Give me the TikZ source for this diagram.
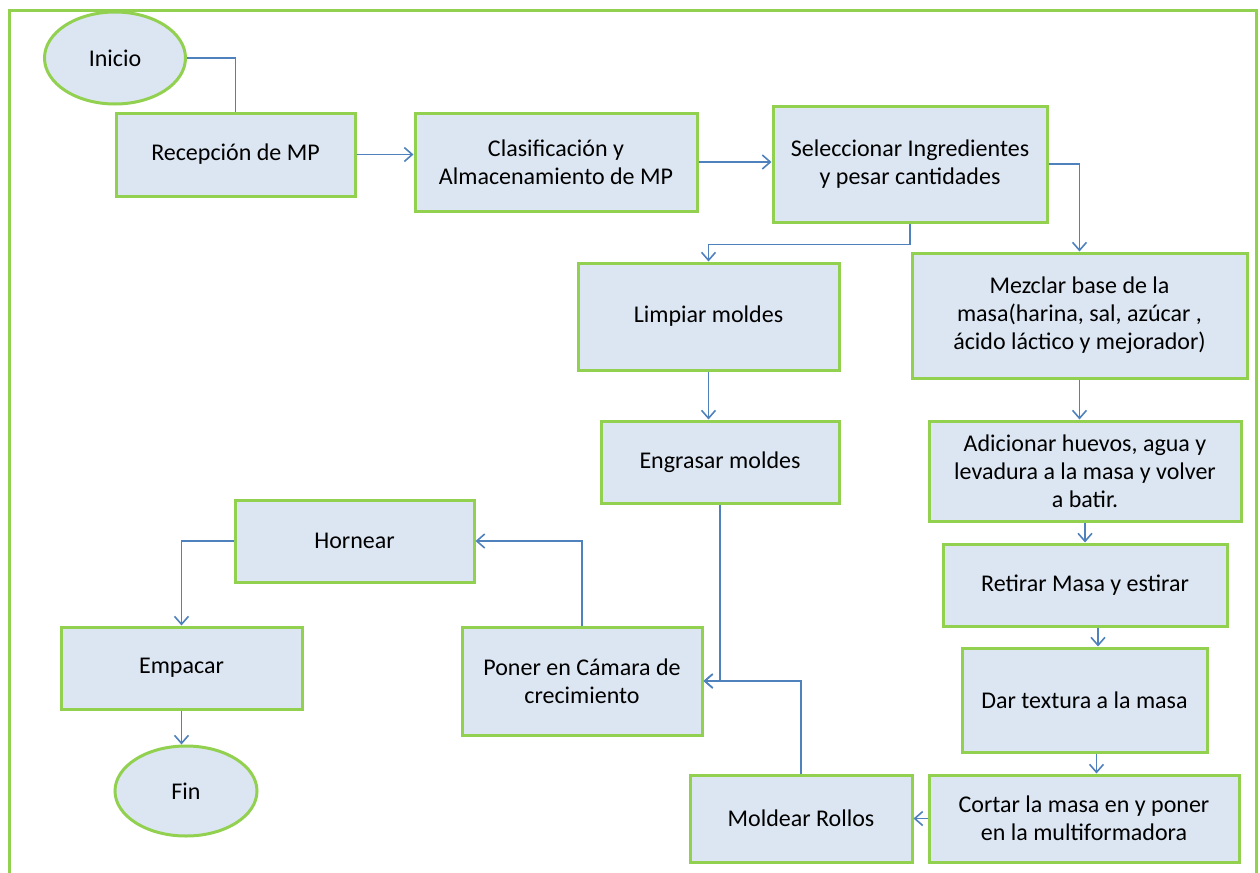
\documentclass[tikz,border=0pt]{standalone}
\usepackage{fontspec}
\setmainfont{Carlito}
\usetikzlibrary{arrows.meta,shapes.geometric}

\definecolor{boxgreen}{HTML}{92D050}
\definecolor{boxfill}{HTML}{DCE6F2}
\definecolor{linkblue}{HTML}{4F81BD}

\begin{document}
\begin{tikzpicture}[x=0.5pt,y=-0.5pt,>={Straight Barb[length=4pt,width=7pt]},
    font=\fontsize{12}{14}\selectfont]
  \tikzset{every node/.style={draw=boxgreen,fill=boxfill,line width=1.5pt,align=center,inner sep=0pt},
           proc/.style 2 args={rectangle,minimum width=#1*0.5pt,minimum height=#2*0.5pt},
           term/.style 2 args={ellipse,minimum width=#1*0.5pt,minimum height=#2*0.5pt},
           link/.style={draw=linkblue,line width=0.8pt}}
  \useasboundingbox (0,0) rectangle (1260,873);
  \draw[boxgreen,line width=1.5pt] (9,873) |- (1256,10) -- (1256,873);

  \node[term={141}{92}]  (inicio)    at (115, 58)     {Inicio};
  \node[proc={239}{83}]  (recep)     at (235.5, 154.5) {Recepción de MP};
  \node[proc={282}{98}]  (clasif)    at (556, 162)    {Clasificación y\\Almacenamiento de MP};
  \node[proc={274}{116}] (selec)     at (910, 164)    {Seleccionar Ingredientes\\y pesar cantidades};
  \node[proc={261}{107}] (limpiar)   at (708.5, 316.5) {Limpiar moldes};
  \node[proc={335}{125}] (mezclar)   at (1079.5, 315.5) {Mezclar base de la\\masa(harina, sal, azúcar ,\\ácido láctico y mejorador)};
  \node[proc={238}{82}]  (engrasar)  at (720, 462)    {Engrasar moldes};
  \node[proc={312}{100}] (adicionar) at (1085, 471)   {Adicionar huevos, agua y\\levadura a la masa y volver\\a batir.};
  \node[proc={284}{82}]  (retirar)   at (1085, 585)   {Retirar Masa y estirar};
  \node[proc={245}{104}] (dar)       at (1084.5, 700) {Dar textura a la masa};
  \node[proc={310}{87}]  (cortar)    at (1084, 818.5) {Cortar la masa en y poner\\en la multiformadora};
  \node[proc={222}{87}]  (moldear)   at (801, 818.5)  {Moldear Rollos};
  \node[proc={240}{108}] (poner)     at (582, 681)    {Poner en Cámara de\\crecimiento};
  \node[proc={239}{82}]  (hornear)   at (354.5, 541)  {Hornear};
  \node[proc={241}{82}]  (empacar)   at (181.5, 668)  {Empacar};
  \node[term={142}{90}]  (fin)       at (186, 791)    {Fin};

  \draw[link] (inicio) -| (recep);
  \draw[link,->] (recep) -- (recep -| clasif.west);
  \draw[link,->] (clasif) -- (clasif -| selec.west);
  \draw[link,->] (selec.south) -- ++(0,21) -| (limpiar.north);
  \draw[link,->] (selec.east) -| (mezclar.north);
  \draw[link,->] (limpiar) -- (limpiar |- engrasar.north);
  \draw[link,->] (mezclar) -- (mezclar |- adicionar.north);
  \draw[link,->] (adicionar) -- (retirar);
  \draw[link,->] ([xshift=6.5pt]retirar.south) -- ([xshift=6.5pt]retirar.south |- dar.north);
  \draw[link,->] ([xshift=6pt]dar.south) -- ([xshift=6pt]dar.south |- cortar.north);
  \draw[link,->] (cortar) -- (moldear);
  \draw[link,->] (moldear) |- (poner);
  \draw[link,->] (engrasar) |- (poner);
  \draw[link,->] (poner) |- (hornear);
  \draw[link,->] (hornear) -| (empacar);
  \draw[link,->] (empacar) -- (empacar |- fin.north);
\end{tikzpicture}
\end{document}
